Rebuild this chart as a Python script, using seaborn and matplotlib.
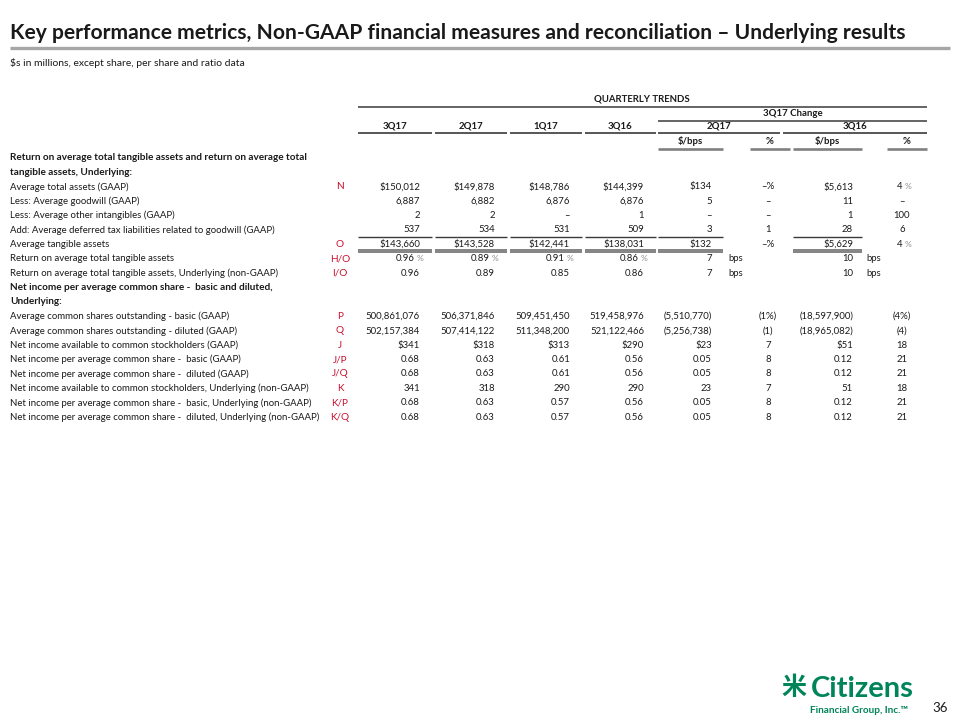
import matplotlib
matplotlib.use("Agg")
import matplotlib.pyplot as plt
import seaborn as sns

# Table content
row_labels = [
    "Return on average total tangible assets and return on average total",
    "tangible assets, Underlying:",
    "Average total assets (GAAP)",
    "Less: Average goodwill (GAAP)",
    "Less: Average other intangibles (GAAP)",
    "Add: Average deferred tax liabilities related to goodwill (GAAP)",
    "Average tangible assets",
    "Return on average total tangible assets",
    "Return on average total tangible assets, Underlying (non-GAAP)",
    "Net income per average common share -  basic and diluted,",
    "Underlying:",
    "Average common shares outstanding - basic (GAAP)",
    "Average common shares outstanding - diluted (GAAP)",
    "Net income available to common stockholders (GAAP)",
    "Net income per average common share -  basic (GAAP)",
    "Net income per average common share -  diluted (GAAP)",
    "Net income available to common stockholders, Underlying (non-GAAP)",
    "Net income per average common share -  basic, Underlying (non-GAAP)",
    "Net income per average common share -  diluted, Underlying (non-GAAP)",
]
bold_rows = [0, 1, 9, 10]
ref_codes = ["", "", "N", "", "", "", "O", "H/O", "I/O", "", "",
             "P", "Q", "J", "J/P", "J/Q", "K", "K/P", "K/Q"]

quarters = ["3Q17", "2Q17", "1Q17", "3Q16"]
q3_17 = ["", "", "$150,012", "6,887", "2", "537", "$143,660", "0.96", "0.96", "", "",
         "500,861,076", "502,157,384", "$341", "0.68", "0.68", "341", "0.68", "0.68"]
q2_17 = ["", "", "$149,878", "6,882", "2", "534", "$143,528", "0.89", "0.89", "", "",
         "506,371,846", "507,414,122", "$318", "0.63", "0.63", "318", "0.63", "0.63"]
q1_17 = ["", "", "$148,786", "6,876", "\u2013", "531", "$142,441", "0.91", "0.85", "", "",
         "509,451,450", "511,348,200", "$313", "0.61", "0.61", "290", "0.57", "0.57"]
q3_16 = ["", "", "$144,399", "6,876", "1", "509", "$138,031", "0.86", "0.86", "", "",
         "519,458,976", "521,122,466", "$290", "0.56", "0.56", "290", "0.56", "0.56"]
pct_rows = [7]  # quarterly values shown with a % sign

chg_2q17_amt = ["", "", "$134", "5", "\u2013", "3", "$132", "7", "7", "", "",
                "(5,510,770)", "(5,256,738)", "$23", "0.05", "0.05", "23", "0.05", "0.05"]
chg_2q17_pct = ["", "", "\u2013%", "\u2013", "\u2013", "1", "\u2013%", "", "", "", "",
                "(1%)", "(1)", "7", "8", "8", "7", "8", "8"]
chg_3q16_amt = ["", "", "$5,613", "11", "1", "28", "$5,629", "10", "10", "", "",
                "(18,597,900)", "(18,965,082)", "$51", "0.12", "0.12", "51", "0.12", "0.12"]
chg_3q16_pct = ["", "", "4 %", "\u2013", "100", "6", "4 %", "", "", "", "",
                "(4%)", "(4)", "18", "21", "21", "18", "21", "21"]
bps_rows = [7, 8]

title = "Key performance metrics, Non-GAAP financial measures and reconciliation \u2013 Underlying results"
subtitle = "$s in millions, except share, per share and ratio data"

sns.set_theme(style="white")
plt.rcParams["font.family"] = ["Lato", "DejaVu Sans"]

TXT = "#1a1a1a"
RED = "#c8102e"
GREEN = "#00845a"
DARK = "#3a3a3a"
GRAY = "#808080"

fig = plt.figure(figsize=(9.6, 7.2), dpi=100)
ax = fig.add_axes([0, 0, 1, 1])
ax.set_xlim(0, 960)
ax.set_ylim(720, 0)
ax.axis("off")

# Title block
ax.text(10, 33, title, fontsize=15.1, fontweight="bold", color=TXT, va="center", ha="left")
ax.plot([10, 950], [48, 48], color="#a6a6a6", lw=2.4, solid_capstyle="butt")
ax.text(10, 63, subtitle, fontsize=7.5, color=TXT, va="center", ha="left")

fs = 6.9      # body text
fsb = 7.2     # bold header text
# Column geometry
q_spans = [(358, 432), (435, 507), (510, 582), (585, 656)]
q_right = [s[1] - 12 for s in q_spans]
c2_span = (658, 780)
c3_span = (783, 927)
c2_amt_span = (658, 723)
c2_pct_span = (750, 790)
c3_amt_span = (793, 862)
c3_pct_span = (887, 927)
c2_amt_right = 712
c3_amt_right = 853
c2_pct_x = 768
c3_pct_x = 902


def hline(x0, x1, y, color=DARK, lw=1.0):
    ax.plot([x0, x1], [y, y], color=color, lw=lw, solid_capstyle="butt")


# Headers
ax.text(642, 99, "QUARTERLY TRENDS", fontsize=fs, fontweight="bold", color=TXT, ha="center", va="center")
hline(358, 927, 106.5, lw=1.1)
ax.text((c2_span[0] + c3_span[1]) / 2, 113.5, "3Q17 Change", fontsize=fs, fontweight="bold",
        color=TXT, ha="center", va="center")
hline(c2_span[0], c3_span[1], 120.5, lw=1.1)
for q, (a, b) in zip(quarters + ["2Q17", "3Q16"], q_spans + [c2_span, c3_span]):
    ax.text((a + b) / 2, 126.5, q, fontsize=fs, fontweight="bold", color=TXT, ha="center", va="center")
    hline(a, b, 133, lw=1.2)
for lab, (a, b) in zip(["$/bps", "%", "$/bps", "%"],
                       [c2_amt_span, c2_pct_span, c3_amt_span, c3_pct_span]):
    ax.text((a + b) / 2, 141.5, lab, fontsize=fs, fontweight="bold", color=TXT, ha="center", va="center")
    hline(a, b, 148.5, color=GRAY, lw=1.9)

# Body rows
y0, dy = 158, 14.4
for i, lab in enumerate(row_labels):
    y = y0 + i * dy
    bold = i in bold_rows
    ax.text(10, y, lab, fontsize=fsb if bold else fs, fontweight="bold" if bold else "normal",
            color=TXT, ha="left", va="center")
    if ref_codes[i]:
        ax.text(340, y, ref_codes[i], fontsize=fs + 0.3, color=RED, ha="center", va="center")
    for col, xr in zip([q3_17, q2_17, q1_17, q3_16], q_right):
        v = col[i]
        if not v:
            continue
        if i in pct_rows:
            ax.text(xr - 5, y, v, fontsize=fs, color=TXT, ha="right", va="center")
            ax.text(xr - 3, y, "%", fontsize=fs - 0.8, color="#8c8c8c", ha="left", va="center")
        else:
            ax.text(xr, y, v, fontsize=fs, color=TXT, ha="right", va="center")
    if chg_2q17_amt[i]:
        ax.text(c2_amt_right, y, chg_2q17_amt[i], fontsize=fs, color=TXT, ha="right", va="center")
    if chg_3q16_amt[i]:
        ax.text(c3_amt_right, y, chg_3q16_amt[i], fontsize=fs, color=TXT, ha="right", va="center")
    if i in bps_rows:
        ax.text(c2_amt_right + 16, y, "bps", fontsize=fs, color=TXT, ha="left", va="center")
        ax.text(c3_amt_right + 13, y, "bps", fontsize=fs, color=TXT, ha="left", va="center")
    for v, xc in [(chg_2q17_pct[i], c2_pct_x), (chg_3q16_pct[i], c3_pct_x)]:
        if v.endswith(" %"):
            ax.text(xc + 1, y, v[:-2], fontsize=fs, color=TXT, ha="right", va="center")
            ax.text(xc + 3, y, "%", fontsize=fs - 0.8, color="#8c8c8c", ha="left", va="center")
        elif v:
            ax.text(xc, y, v, fontsize=fs, color=TXT, ha="center", va="center")

# Sum lines around "Average tangible assets"
ya = y0 + 5 * dy + 7.3
yb = y0 + 6 * dy + 5.6
for a, b in q_spans + [c2_amt_span, c3_amt_span]:
    hline(a, b, ya, color=DARK, lw=1.0)
    hline(a, b, yb, color="#6e6e6e", lw=1.2)
    hline(a, b, yb + 2.3, color="#6e6e6e", lw=1.2)

# Logo and page number
ax.text(794, 688, "\u7c73", fontsize=18, fontweight="bold", color=GREEN, ha="center", va="center",
        family=["Noto Sans CJK SC", "DejaVu Sans"])
ax.text(811, 689, "Citizens", fontsize=21, fontweight="bold", color=GREEN, ha="left", va="center")
ax.text(810, 710, "Financial Group, Inc.\u2122", fontsize=7.2, fontweight="bold", color=GREEN,
        ha="left", va="center")
ax.text(948, 708, "36", fontsize=9.5, color=TXT, ha="right", va="center")

fig.savefig("out.png", dpi=100)
